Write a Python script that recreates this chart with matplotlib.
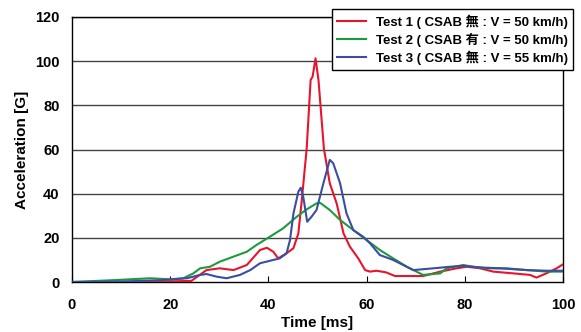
import matplotlib
matplotlib.use("Agg")
import matplotlib.pyplot as plt

# Test 1 (red)
t1 = [0, 10, 20, 24.3, 27.4, 30.1, 32.9, 35.6, 38.3, 39.7, 41, 42, 43.7, 45.1, 46.1, 46.8, 47.8, 48.6, 49.0,
      49.6, 50.2, 51.3, 52.5, 53.9, 55.3, 56.6, 58.3, 59.7, 60.7, 62, 63.9, 65.8, 68.2, 71.5, 75, 78.3,
      80.4, 83.1, 85.8, 89.9, 93.3, 94.6, 96.7, 98.7, 100]
a1 = [0, 0, 0.3, 0.5, 5.4, 6.2, 5.4, 7.7, 14.5, 15.5, 13.7, 10.7, 13, 15.3, 22, 37, 60.5, 91.5, 93,
      101.3, 91.5, 60.5, 44.7, 35.6, 22, 16, 10.7, 5.4, 4.7, 5.1, 4.4, 2.7, 2.7, 2.7, 4.7, 6.2,
      6.9, 6.2, 4.7, 3.9, 3.2, 2.0, 4.0, 6.2, 8.0]

# Test 2 (green)
t2 = [0, 9.1, 15.9, 20, 22.7, 24.7, 26.1, 28.1, 30.1, 32.9, 35.6, 37.6, 40.3, 43, 45.8, 47.8, 49.8,
      50.5, 52.5, 54.6, 57.3, 60, 62.7, 65.4, 68.2, 71.5, 75, 76.3, 79.7, 81.7, 84.4, 88.5, 92.6, 96.7, 100]
a2 = [0, 0.9, 1.7, 1.2, 1.7, 3.9, 6.2, 6.9, 9.2, 11.5, 13.7, 16.8, 20.5, 24.3, 29.6, 32.9, 35.6,
      35.9, 32.6, 28.1, 23.5, 19, 14.5, 10.7, 6.9, 3.2, 3.9, 6.2, 7.7, 6.9, 6.2, 6.2, 5.4, 4.7, 4.7]

# Test 3 (blue)
t3 = [0, 10, 17.9, 23.4, 26.1, 27.4, 29.5, 31.5, 34.2, 36.3, 38.3, 40.3, 42.3, 43.7, 44.4, 45.1, 46.1,
      46.6, 47.1, 47.9, 48.8, 49.8, 51.2, 52.5, 53.2, 54.6, 55.9, 57.3, 59.3, 60.7, 62.7, 65.4, 68.8,
      69.5, 73.6, 77, 79.7, 83.1, 87.1, 92.6, 96.7, 100]
a3 = [0, 0.2, 0.8, 1.7, 3.2, 3.6, 2.4, 1.7, 3.2, 5.4, 8.5, 9.6, 10.7, 13, 19, 31, 40.9,
      42.7, 38.6, 27.3, 29.6, 32.6, 44.7, 55.3, 53.8, 44.7, 31.1, 23.5, 20.5, 17.5, 12.2, 10, 6.2,
      5.4, 6.2, 6.9, 7.3, 6.6, 6.2, 5.4, 5.1, 5.1]

labels = ["Test 1 ( CSAB 無 : V = 50 km/h)",
          "Test 2 ( CSAB 有 : V = 50 km/h)",
          "Test 3 ( CSAB 無 : V = 55 km/h)"]
colors = ["#E8142D", "#1E9A3E", "#3A4DA0"]

xticks = [0, 20, 40, 60, 80, 100]
yticks = [0, 20, 40, 60, 80, 100, 120]

fam = ["Liberation Sans", "Noto Sans CJK JP", "DejaVu Sans"]
plt.rcParams["font.family"] = fam
plt.rcParams["font.weight"] = "bold"

fig = plt.figure(figsize=(5.81, 3.32), dpi=100)
ax = fig.add_axes([72/581, 1-282/332, (563-72)/581, (282-17)/332])

for ytk in yticks[1:]:
    ax.axhline(ytk, color="#444444", lw=1.0, zorder=1)

for t, a, c, lab in zip([t1, t2, t3], [a1, a2, a3], colors, labels):
    ax.plot(t, a, color=c, lw=1.5, label=lab, zorder=3)

ax.set_xlim(0, 100)
ax.set_ylim(0, 120)
ax.set_xticks(xticks)
ax.set_yticks(yticks)
ax.tick_params(axis="x", direction="in", length=4, pad=11.5, labelsize=10.5)
ax.tick_params(axis="y", direction="in", length=0, pad=9, labelsize=10.5)
for lbl in ax.get_xticklabels() + ax.get_yticklabels():
    lbl.set_fontweight("bold")
for s in ax.spines.values():
    s.set_color("black")
    s.set_linewidth(1.0)

ax.set_xlabel("Time [ms]", fontsize=11, fontweight="bold", labelpad=3)
ax.set_ylabel("Acceleration [G]", fontsize=11, fontweight="bold", labelpad=4)

leg = fig.legend(loc="upper right", bbox_to_anchor=(573/581, 1-9/332),
                 frameon=True, fancybox=False, handlelength=2.2, borderpad=0.4,
                 labelspacing=0.3, handletextpad=0.7, borderaxespad=0,
                 prop={"family": fam, "weight": "bold", "size": 9.5})
leg.get_frame().set_edgecolor("black")
leg.get_frame().set_linewidth(1.0)
leg.get_frame().set_alpha(1)
leg.set_zorder(10)

fig.savefig("out.png", dpi=100)
